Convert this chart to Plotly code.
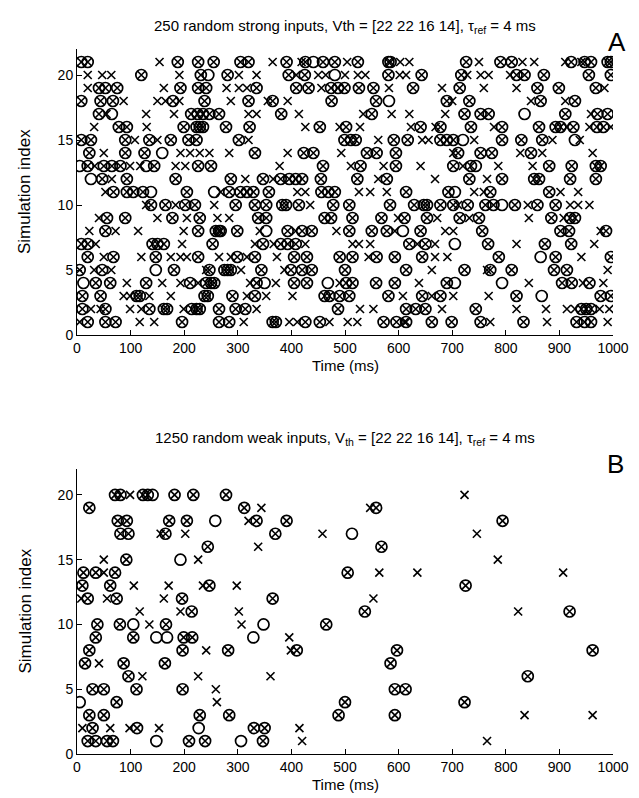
import plotly.graph_objects as go

# ---------------- Panel A data (row -> spike times in ms) ----------------
A_both = {
    21: [8, 20, 188, 226, 255, 305, 320, 391, 426, 459, 481, 524, 581, 585, 726, 790, 811, 922, 947, 959, 990, 996],
    20: [120, 231, 281, 395, 425, 581, 643, 717, 820, 835, 871, 955, 996],
    19: [41, 53, 75, 193, 226, 241, 335, 409, 432, 474, 487, 499, 526, 553, 627, 714, 859, 899, 968],
    18: [8, 44, 67, 179, 238, 320, 365, 475, 558, 690, 732, 865, 929],
    17: [41, 213, 225, 235, 247, 265, 381, 550, 723, 753, 768, 911, 971, 990],
    16: [78, 93, 199, 223, 229, 235, 278, 322, 453, 502, 641, 678, 735, 793, 862, 893, 902, 926, 970, 982],
    15: [8, 26, 90, 135, 175, 208, 223, 302, 499, 511, 520, 591, 617, 678, 690, 702, 793, 829, 868],
    14: [23, 90, 126, 332, 423, 441, 541, 559, 595, 711, 753, 774, 847],
    13: [20, 50, 65, 81, 144, 226, 250, 459, 529, 595, 702, 735, 881, 923, 968, 977],
    12: [47, 93, 184, 287, 347, 380, 396, 408, 420, 455, 523, 578, 732, 793, 853, 862, 920, 968],
    11: [68, 93, 105, 123, 205, 284, 305, 317, 329, 358, 456, 469, 481, 614, 693, 771, 881],
    10: [138, 165, 202, 220, 296, 332, 353, 383, 390, 414, 478, 508, 584, 629, 647, 653, 678, 702, 729, 762, 777, 817, 859, 893],
    9: [56, 90, 178, 229, 338, 353, 462, 474, 514, 568, 611, 653, 714, 750, 885, 920, 929],
    8: [53, 226, 259, 265, 268, 299, 393, 420, 438, 508, 550, 578, 641, 756, 902, 918, 987],
    7: [8, 20, 141, 150, 162, 253, 347, 380, 393, 408, 620, 650, 767, 873, 922],
    6: [20, 68, 147, 226, 299, 332, 405, 429, 490, 514, 559, 593, 644, 787, 893, 996],
    5: [5, 47, 181, 247, 275, 281, 287, 344, 399, 420, 438, 500, 614, 723, 771, 811, 890, 914],
    4: [35, 62, 129, 211, 241, 250, 256, 335, 405, 429, 502, 514, 558, 593, 690, 905, 923, 956],
    3: [10, 44, 111, 117, 238, 244, 290, 332, 462, 471, 490, 508, 581, 644, 678, 820, 977, 996],
    2: [10, 53, 135, 162, 168, 214, 223, 229, 265, 296, 314, 487, 614, 632, 650, 744, 941, 950, 959],
    1: [20, 53, 72, 196, 265, 284, 365, 371, 426, 453, 572, 596, 614, 662, 699, 753, 833, 932, 947, 959],
}
A_cross_only = {
    21: [154, 365, 419, 504, 603, 620, 750, 831, 853, 911, 941],
    20: [20, 47, 64, 191, 302, 335, 409, 450, 464, 500, 524, 538, 602, 614, 728, 753, 768, 808],
    19: [20, 162, 279, 302, 317, 456, 582, 681, 759, 820, 984],
    18: [87, 150, 165, 191, 287, 356, 393, 700, 847, 911],
    17: [55, 129, 181, 320, 335, 414, 534, 587, 620, 687, 959],
    16: [32, 130, 426, 490, 528, 623, 669, 778, 914, 956, 996],
    15: [108, 150, 320, 562, 644, 656, 741, 887, 938],
    14: [50, 193, 211, 229, 247, 284, 393, 493, 702, 827, 868, 962],
    13: [33, 99, 118, 184, 202, 378, 511, 572, 641, 720, 786, 850],
    12: [65, 314, 366, 562, 668, 765],
    11: [53, 268, 411, 426, 526, 547, 578, 741, 759, 902, 935],
    10: [129, 184, 256, 435, 711, 841, 920, 935, 956],
    9: [41, 150, 205, 262, 284, 599, 672, 732, 843, 908],
    8: [23, 72, 114, 199, 341, 408, 484, 593, 687, 702, 977],
    7: [35, 196, 332, 367, 426, 514, 526, 547, 635, 668, 820, 965],
    6: [50, 120, 175, 193, 205, 265, 287, 317, 373, 544, 668, 691, 941],
    5: [32, 64, 241, 306, 387, 662, 765, 990],
    4: [93, 159, 193, 226, 323, 371, 490, 638, 843, 944, 982],
    3: [87, 99, 135, 175, 317, 353, 402, 608, 662, 702, 768],
    2: [26, 44, 99, 120, 199, 335, 528, 553, 681, 820, 875, 914, 929, 975, 993],
    1: [5, 117, 144, 311, 396, 411, 471, 505, 523, 611, 771, 877, 990],
}
A_circle_only = {
    21: [441], 20: [245, 481], 18: [582], 17: [65, 835], 15: [720, 929],
    14: [159], 13: [5, 129, 744], 12: [26], 11: [138, 256, 705], 10: [793],
    8: [353, 608], 7: [705], 6: [865], 5: [147], 4: [12, 350, 468, 705, 793],
    3: [867],
}

# ---------------- Panel B data ----------------
B_both = {
    20: [71, 81, 123, 132, 182, 217, 278],
    19: [23, 312, 558],
    18: [76, 93, 172, 205, 335, 391, 794],
    17: [81, 96, 165, 370],
    16: [244, 568],
    15: [92],
    14: [12, 35, 71, 505],
    13: [10, 62, 247, 725],
    12: [20, 74, 196, 365],
    11: [214, 537, 919],
    10: [38, 80, 166, 465],
    9: [35, 105, 199, 215],
    8: [23, 197, 282, 410, 597, 962],
    7: [15, 87, 164, 585],
    6: [96, 841],
    5: [29, 50, 111, 197, 593, 613],
    4: [74, 500, 723],
    3: [23, 50, 229, 284, 488, 593],
    2: [29, 112, 330, 350],
    1: [20, 35, 56, 67, 209, 239, 347],
}
B_cross_only = {
    20: [99, 723], 19: [344, 547], 18: [320], 17: [156, 202, 458, 746],
    16: [338], 15: [50, 226, 785], 14: [50, 564, 635, 907],
    13: [106, 171, 235, 298], 12: [8, 56, 162, 553], 11: [117, 193, 302, 823],
    10: [135, 307], 9: [396], 8: [241, 399], 7: [41], 6: [122, 226, 361],
    5: [259], 4: [261], 3: [835, 962], 2: [10, 62, 98, 153, 415], 1: [420, 765],
}
B_circle_only = {
    20: [141], 18: [258], 17: [513], 15: [193], 10: [105, 348],
    9: [148, 168, 329], 4: [5], 2: [227], 1: [148, 306],
}

title_A = "250 random strong inputs, Vth = [22 22 16 14], τ<sub>ref</sub> = 4 ms"
title_B = "1250 random weak inputs, V<sub>th</sub> = [22 22 16 14], τ<sub>ref</sub> = 4 ms"
x_title = "Time (ms)"
y_title = "Simulation index"
x_ticks = list(range(0, 1001, 100))
y_ticks = [0, 5, 10, 15, 20]


def flatten(*dicts):
    xs, ys = [], []
    for d in dicts:
        for r, ts in d.items():
            for t in ts:
                xs.append(t)
                ys.append(r)
    return xs, ys


FONT = "Liberation Sans, Arial, sans-serif"
fig = go.Figure()

for both, cro, cir, xa, ya in [
    (A_both, A_cross_only, A_circle_only, "x", "y"),
    (B_both, B_cross_only, B_circle_only, "x2", "y2"),
]:
    cx, cy = flatten(both, cro)
    ox, oy = flatten(both, cir)
    fig.add_trace(go.Scatter(x=ox, y=oy, mode="markers", xaxis=xa, yaxis=ya,
                             marker=dict(symbol="circle-open", size=11, color="black",
                                         line=dict(width=1.7, color="black")),
                             showlegend=False, hoverinfo="skip"))
    fig.add_trace(go.Scatter(x=cx, y=cy, mode="markers", xaxis=xa, yaxis=ya,
                             marker=dict(symbol="x-thin-open", size=8, color="black",
                                         line=dict(width=1.6, color="black")),
                             showlegend=False, hoverinfo="skip"))

axis_common = dict(showline=True, linecolor="black", linewidth=1, ticks="inside",
                   ticklen=5, tickcolor="black", showgrid=False, zeroline=False,
                   mirror=False, tickfont=dict(family=FONT, size=14, color="black"))

W, H = 639, 798
ml, mr, mt, mb = 69, 34, 41, 52
pw = W - ml - mr
ph = H - mt - mb
A0, B0 = 327, 746          # pixel rows of the two x axes
a_bot = (B0 - A0) / ph
b_top = (B0 - 461) / ph


def py(p):
    return (B0 - p) / ph


def px(p):
    return (p - ml) / pw


fig.update_layout(
    width=W, height=H,
    margin=dict(l=ml, r=mr, t=mt, b=mb),
    plot_bgcolor="white", paper_bgcolor="white",
    font=dict(family=FONT, size=15, color="black"),
    xaxis=dict(range=[0, 1000], tickvals=x_ticks, domain=[0, 1], anchor="y", **axis_common),
    yaxis=dict(range=[0, 22], tickvals=y_ticks, domain=[a_bot, 1], anchor="x", **axis_common),
    xaxis2=dict(range=[0, 1000], tickvals=x_ticks, domain=[0, 1], anchor="y2", **axis_common),
    yaxis2=dict(range=[0, 22], tickvals=y_ticks, domain=[0, b_top], anchor="x2", **axis_common),
    annotations=[
        dict(text=title_A, xref="paper", yref="paper", x=0.5, y=py(18),
             xanchor="center", yanchor="middle", showarrow=False, font=dict(size=15)),
        dict(text=title_B, xref="paper", yref="paper", x=0.5, y=py(430),
             xanchor="center", yanchor="middle", showarrow=False, font=dict(size=15)),
        dict(text=x_title, xref="paper", yref="paper", x=0.5, y=py(A0 + 30),
             xanchor="center", yanchor="middle", showarrow=False, font=dict(size=15)),
        dict(text=x_title, xref="paper", yref="paper", x=0.5, y=py(B0 + 30),
             xanchor="center", yanchor="middle", showarrow=False, font=dict(size=15)),
        dict(text=y_title, xref="paper", yref="paper", x=px(17), y=py((A0 + 41) / 2),
             xanchor="center", yanchor="middle", showarrow=False, textangle=-90,
             font=dict(size=17)),
        dict(text=y_title, xref="paper", yref="paper", x=px(17), y=py((B0 + 461) / 2),
             xanchor="center", yanchor="middle", showarrow=False, textangle=-90,
             font=dict(size=17)),
        dict(text="A", xref="paper", yref="paper", x=px(609), y=py(34),
             xanchor="center", yanchor="middle", showarrow=False, font=dict(size=26)),
        dict(text="B", xref="paper", yref="paper", x=px(607), y=py(456),
             xanchor="center", yanchor="middle", showarrow=False, font=dict(size=26)),
    ],
)

fig.write_html("out.html")
